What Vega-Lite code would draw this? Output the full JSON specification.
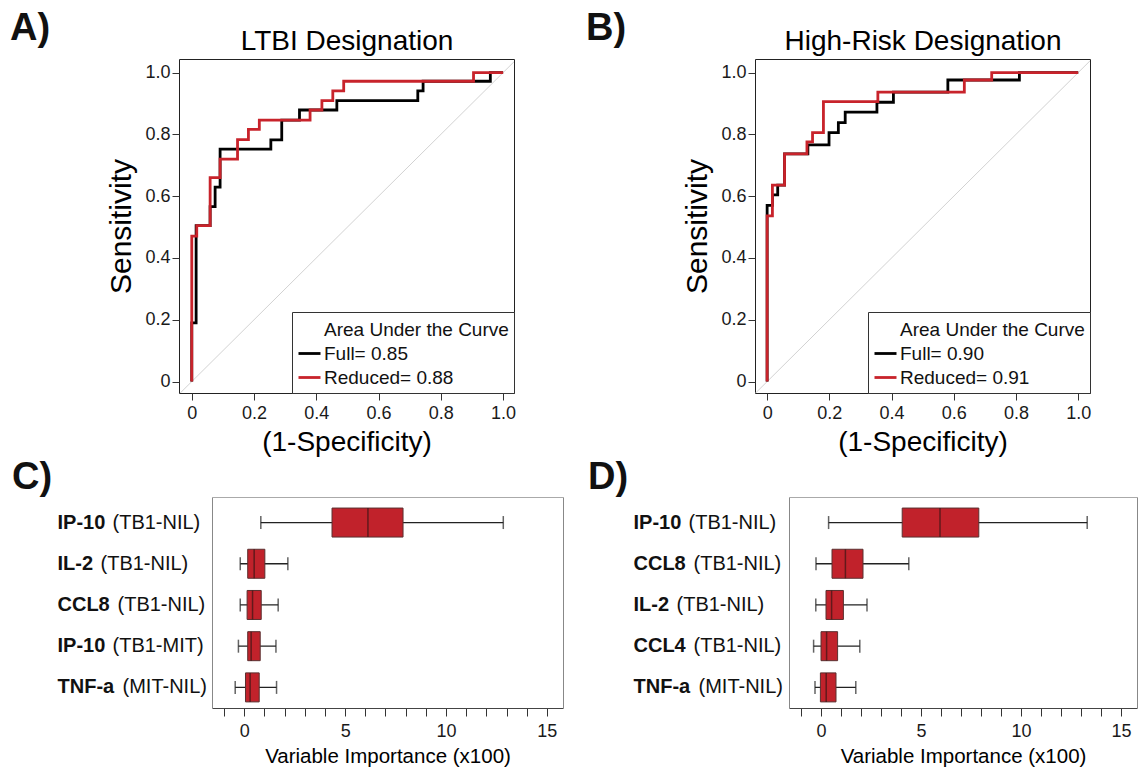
{
  "$schema": "https://vega.github.io/schema/vega-lite/v6.json",
  "autosize": {"type": "none"},
  "padding": {"left": 179, "top": 59, "right": 960, "bottom": 711},
  "background": "white",
  "columns": 2,
  "bounds": "flush",
  "align": "none",
  "spacing": {"row": 104, "column": 192},
  "resolve": {"scale": {"color": "independent"}, "legend": {"color": "independent"}},
  "config": {
    "font": "Liberation Sans",
    "view": {"stroke": "#222", "strokeWidth": 1},
    "axis": {"grid": false, "labelFont": "Liberation Sans", "titleFont": "Liberation Sans", "labelColor": "#1a1a1a", "titleColor": "#000", "titleFontWeight": "normal", "tickColor": "#333", "domainColor": "#333", "labelFontSize": 18, "labelFlush": false, "labelOverlap": false},
    "legend": {"labelFont": "Liberation Sans", "labelFontSize": 19, "labelColor": "#111", "strokeColor": "#333", "fillColor": "white", "padding": 5, "rowPadding": 1, "labelOffset": 2, "labelLimit": 0, "symbolType": "stroke", "symbolSize": 484, "symbolStrokeWidth": 2.8, "orient": "bottom-right", "offset": 0},
    "title": {"font": "Liberation Sans", "fontSize": 38, "fontWeight": "bold", "color": "#111", "anchor": "start", "frame": "group", "offset": 0}
  },
  "concat": [
    {
      "width": 335, "height": 334,
      "view": {"stroke": "#222"},
      "title": {"text": "A)", "dx": -169, "dy": 25},
      "resolve": {"axis": {"x": "independent", "y": "independent"}},
      "layer": [
        {
          "data": {"values": [{"x0": -0.05, "y0": -0.05, "x1": 1.05, "y1": 1.05}]},
          "mark": {"type": "rule", "color": "#d2d2d2", "strokeWidth": 1, "clip": true},
          "encoding": {
            "x": {"field": "x0", "type": "quantitative", "scale": {"domain": [-0.041, 1.035], "nice": false, "zero": false}, "axis": {"orient": "top", "title": "LTBI Designation", "labels": false, "ticks": false, "domain": false, "titleFontSize": 28, "titlePadding": 4}},
            "x2": {"field": "x1"},
            "y": {"field": "y0", "type": "quantitative", "scale": {"domain": [-0.037, 1.044], "nice": false, "zero": false}, "axis": null},
            "y2": {"field": "y1"}
          }
        },
        {
          "data": {"values": [
            {"model": "Full", "i": 0, "fpr": 0, "tpr": 0},
            {"model": "Full", "i": 1, "fpr": 0, "tpr": 0.19},
            {"model": "Full", "i": 2, "fpr": 0.014, "tpr": 0.19},
            {"model": "Full", "i": 3, "fpr": 0.014, "tpr": 0.505},
            {"model": "Full", "i": 4, "fpr": 0.059, "tpr": 0.505},
            {"model": "Full", "i": 5, "fpr": 0.059, "tpr": 0.566},
            {"model": "Full", "i": 6, "fpr": 0.075, "tpr": 0.566},
            {"model": "Full", "i": 7, "fpr": 0.075, "tpr": 0.629},
            {"model": "Full", "i": 8, "fpr": 0.091, "tpr": 0.629},
            {"model": "Full", "i": 9, "fpr": 0.091, "tpr": 0.752},
            {"model": "Full", "i": 10, "fpr": 0.254, "tpr": 0.752},
            {"model": "Full", "i": 11, "fpr": 0.254, "tpr": 0.782},
            {"model": "Full", "i": 12, "fpr": 0.289, "tpr": 0.782},
            {"model": "Full", "i": 13, "fpr": 0.289, "tpr": 0.846},
            {"model": "Full", "i": 14, "fpr": 0.346, "tpr": 0.846},
            {"model": "Full", "i": 15, "fpr": 0.346, "tpr": 0.879},
            {"model": "Full", "i": 16, "fpr": 0.466, "tpr": 0.879},
            {"model": "Full", "i": 17, "fpr": 0.466, "tpr": 0.909},
            {"model": "Full", "i": 18, "fpr": 0.726, "tpr": 0.909},
            {"model": "Full", "i": 19, "fpr": 0.726, "tpr": 0.941},
            {"model": "Full", "i": 20, "fpr": 0.743, "tpr": 0.941},
            {"model": "Full", "i": 21, "fpr": 0.743, "tpr": 0.972},
            {"model": "Full", "i": 22, "fpr": 0.959, "tpr": 0.972},
            {"model": "Full", "i": 23, "fpr": 0.959, "tpr": 1.0},
            {"model": "Full", "i": 24, "fpr": 1.0, "tpr": 1.0},
            {"model": "Reduced", "i": 0, "fpr": 0, "tpr": 0},
            {"model": "Reduced", "i": 1, "fpr": 0, "tpr": 0.471},
            {"model": "Reduced", "i": 2, "fpr": 0.016, "tpr": 0.471},
            {"model": "Reduced", "i": 3, "fpr": 0.016, "tpr": 0.505},
            {"model": "Reduced", "i": 4, "fpr": 0.059, "tpr": 0.505},
            {"model": "Reduced", "i": 5, "fpr": 0.059, "tpr": 0.66},
            {"model": "Reduced", "i": 6, "fpr": 0.091, "tpr": 0.66},
            {"model": "Reduced", "i": 7, "fpr": 0.091, "tpr": 0.72},
            {"model": "Reduced", "i": 8, "fpr": 0.147, "tpr": 0.72},
            {"model": "Reduced", "i": 9, "fpr": 0.147, "tpr": 0.783},
            {"model": "Reduced", "i": 10, "fpr": 0.182, "tpr": 0.783},
            {"model": "Reduced", "i": 11, "fpr": 0.182, "tpr": 0.816},
            {"model": "Reduced", "i": 12, "fpr": 0.217, "tpr": 0.816},
            {"model": "Reduced", "i": 13, "fpr": 0.217, "tpr": 0.846},
            {"model": "Reduced", "i": 14, "fpr": 0.38, "tpr": 0.846},
            {"model": "Reduced", "i": 15, "fpr": 0.38, "tpr": 0.879},
            {"model": "Reduced", "i": 16, "fpr": 0.418, "tpr": 0.879},
            {"model": "Reduced", "i": 17, "fpr": 0.418, "tpr": 0.909},
            {"model": "Reduced", "i": 18, "fpr": 0.453, "tpr": 0.909},
            {"model": "Reduced", "i": 19, "fpr": 0.453, "tpr": 0.941},
            {"model": "Reduced", "i": 20, "fpr": 0.488, "tpr": 0.941},
            {"model": "Reduced", "i": 21, "fpr": 0.488, "tpr": 0.972},
            {"model": "Reduced", "i": 22, "fpr": 0.905, "tpr": 0.972},
            {"model": "Reduced", "i": 23, "fpr": 0.905, "tpr": 1.0},
            {"model": "Reduced", "i": 24, "fpr": 1.0, "tpr": 1.0}
          ]},
          "mark": {"type": "line", "strokeWidth": 2.8},
          "encoding": {
            "x": {"field": "fpr", "type": "quantitative", "scale": {"domain": [-0.041, 1.035], "nice": false, "zero": false}, "axis": {"orient": "bottom", "title": "(1-Specificity)", "values": [0, 0.2, 0.4, 0.6, 0.8, 1], "labelExpr": "datum.value == 0 ? '0' : format(datum.value, '.1f')", "tickSize": 7, "labelPadding": 4, "titlePadding": 6, "titleFontSize": 28, "domain": false}},
            "y": {"field": "tpr", "type": "quantitative", "scale": {"domain": [-0.037, 1.044], "nice": false, "zero": false}, "axis": {"orient": "left", "title": "Sensitivity", "values": [0, 0.2, 0.4, 0.6, 0.8, 1], "labelExpr": "datum.value == 0 ? '0' : format(datum.value, '.1f')", "tickSize": 7, "labelPadding": 2, "titlePadding": 8, "titleFontSize": 30, "domain": false}},
            "color": {"field": "model", "type": "nominal", "scale": {"domain": ["AUC", "Full", "Reduced"], "range": ["rgba(0,0,0,0)", "#000000", "#C8232B"]}, "legend": {"title": null, "labelExpr": "datum.label == 'AUC' ? 'Area Under the Curve' : datum.label == 'Full' ? 'Full= 0.85' : 'Reduced= 0.88'"}},
            "order": {"field": "i", "type": "quantitative"}
          }
        }
      ]
    },
    {
      "width": 335, "height": 334,
      "view": {"stroke": "#222"},
      "title": {"text": "B)", "dx": -169, "dy": 25},
      "resolve": {"axis": {"x": "independent", "y": "independent"}},
      "layer": [
        {
          "data": {"values": [{"x0": -0.05, "y0": -0.05, "x1": 1.05, "y1": 1.05}]},
          "mark": {"type": "rule", "color": "#d2d2d2", "strokeWidth": 1, "clip": true},
          "encoding": {
            "x": {"field": "x0", "type": "quantitative", "scale": {"domain": [-0.039, 1.038], "nice": false, "zero": false}, "axis": {"orient": "top", "title": "High-Risk Designation", "labels": false, "ticks": false, "domain": false, "titleFontSize": 28, "titlePadding": 4}},
            "x2": {"field": "x1"},
            "y": {"field": "y0", "type": "quantitative", "scale": {"domain": [-0.037, 1.044], "nice": false, "zero": false}, "axis": null},
            "y2": {"field": "y1"}
          }
        },
        {
          "data": {"values": [
            {"model": "Full", "i": 0, "fpr": 0, "tpr": 0},
            {"model": "Full", "i": 1, "fpr": 0, "tpr": 0.57},
            {"model": "Full", "i": 2, "fpr": 0.017, "tpr": 0.57},
            {"model": "Full", "i": 3, "fpr": 0.017, "tpr": 0.604},
            {"model": "Full", "i": 4, "fpr": 0.034, "tpr": 0.604},
            {"model": "Full", "i": 5, "fpr": 0.034, "tpr": 0.636},
            {"model": "Full", "i": 6, "fpr": 0.056, "tpr": 0.636},
            {"model": "Full", "i": 7, "fpr": 0.056, "tpr": 0.737},
            {"model": "Full", "i": 8, "fpr": 0.131, "tpr": 0.737},
            {"model": "Full", "i": 9, "fpr": 0.131, "tpr": 0.766},
            {"model": "Full", "i": 10, "fpr": 0.199, "tpr": 0.766},
            {"model": "Full", "i": 11, "fpr": 0.199, "tpr": 0.806},
            {"model": "Full", "i": 12, "fpr": 0.229, "tpr": 0.806},
            {"model": "Full", "i": 13, "fpr": 0.229, "tpr": 0.838},
            {"model": "Full", "i": 14, "fpr": 0.251, "tpr": 0.838},
            {"model": "Full", "i": 15, "fpr": 0.251, "tpr": 0.872},
            {"model": "Full", "i": 16, "fpr": 0.353, "tpr": 0.872},
            {"model": "Full", "i": 17, "fpr": 0.353, "tpr": 0.904},
            {"model": "Full", "i": 18, "fpr": 0.406, "tpr": 0.904},
            {"model": "Full", "i": 19, "fpr": 0.406, "tpr": 0.937},
            {"model": "Full", "i": 20, "fpr": 0.581, "tpr": 0.937},
            {"model": "Full", "i": 21, "fpr": 0.581, "tpr": 0.976},
            {"model": "Full", "i": 22, "fpr": 0.811, "tpr": 0.976},
            {"model": "Full", "i": 23, "fpr": 0.811, "tpr": 1.0},
            {"model": "Full", "i": 24, "fpr": 1.0, "tpr": 1.0},
            {"model": "Reduced", "i": 0, "fpr": 0, "tpr": 0},
            {"model": "Reduced", "i": 1, "fpr": 0, "tpr": 0.536},
            {"model": "Reduced", "i": 2, "fpr": 0.017, "tpr": 0.536},
            {"model": "Reduced", "i": 3, "fpr": 0.017, "tpr": 0.636},
            {"model": "Reduced", "i": 4, "fpr": 0.056, "tpr": 0.636},
            {"model": "Reduced", "i": 5, "fpr": 0.056, "tpr": 0.737},
            {"model": "Reduced", "i": 6, "fpr": 0.128, "tpr": 0.737},
            {"model": "Reduced", "i": 7, "fpr": 0.128, "tpr": 0.776},
            {"model": "Reduced", "i": 8, "fpr": 0.146, "tpr": 0.776},
            {"model": "Reduced", "i": 9, "fpr": 0.146, "tpr": 0.806},
            {"model": "Reduced", "i": 10, "fpr": 0.181, "tpr": 0.806},
            {"model": "Reduced", "i": 11, "fpr": 0.181, "tpr": 0.906},
            {"model": "Reduced", "i": 12, "fpr": 0.356, "tpr": 0.906},
            {"model": "Reduced", "i": 13, "fpr": 0.356, "tpr": 0.937},
            {"model": "Reduced", "i": 14, "fpr": 0.634, "tpr": 0.937},
            {"model": "Reduced", "i": 15, "fpr": 0.634, "tpr": 0.976},
            {"model": "Reduced", "i": 16, "fpr": 0.722, "tpr": 0.976},
            {"model": "Reduced", "i": 17, "fpr": 0.722, "tpr": 1.0},
            {"model": "Reduced", "i": 18, "fpr": 1.0, "tpr": 1.0}
          ]},
          "mark": {"type": "line", "strokeWidth": 2.8},
          "encoding": {
            "x": {"field": "fpr", "type": "quantitative", "scale": {"domain": [-0.039, 1.038], "nice": false, "zero": false}, "axis": {"orient": "bottom", "title": "(1-Specificity)", "values": [0, 0.2, 0.4, 0.6, 0.8, 1], "labelExpr": "datum.value == 0 ? '0' : format(datum.value, '.1f')", "tickSize": 7, "labelPadding": 4, "titlePadding": 6, "titleFontSize": 28, "domain": false}},
            "y": {"field": "tpr", "type": "quantitative", "scale": {"domain": [-0.037, 1.044], "nice": false, "zero": false}, "axis": {"orient": "left", "title": "Sensitivity", "values": [0, 0.2, 0.4, 0.6, 0.8, 1], "labelExpr": "datum.value == 0 ? '0' : format(datum.value, '.1f')", "tickSize": 7, "labelPadding": 2, "titlePadding": 8, "titleFontSize": 30, "domain": false}},
            "color": {"field": "model", "type": "nominal", "scale": {"domain": ["AUC", "Full", "Reduced"], "range": ["rgba(0,0,0,0)", "#000000", "#C8232B"]}, "legend": {"title": null, "labelExpr": "datum.label == 'AUC' ? 'Area Under the Curve' : datum.label == 'Full' ? 'Full= 0.90' : 'Reduced= 0.91'"}},
            "order": {"field": "i", "type": "quantitative"}
          }
        }
      ]
    },
    {
      "width": 384, "height": 211,
      "view": {"stroke": null},
      "title": {"text": "C)", "dx": -167, "dy": 4},
      "data": {"values": [
        {"lab": "IP-10 (TB1-NIL)", "lo": 0.82, "q1": 4.35, "med": 6.13, "q3": 7.87, "hi": 12.84},
        {"lab": "IL-2 (TB1-NIL)", "lo": -0.2, "q1": 0.17, "med": 0.49, "q3": 1.02, "hi": 2.16},
        {"lab": "CCL8 (TB1-NIL)", "lo": -0.2, "q1": 0.14, "med": 0.41, "q3": 0.84, "hi": 1.68},
        {"lab": "IP-10 (TB1-MIT)", "lo": -0.29, "q1": 0.17, "med": 0.34, "q3": 0.79, "hi": 1.57},
        {"lab": "TNF-a (MIT-NIL)", "lo": -0.45, "q1": 0.06, "med": 0.29, "q3": 0.74, "hi": 1.6}
      ]},
      "resolve": {"axis": {"x": "independent", "y": "independent"}},
      "layer": [
        {
          "mark": {"type": "rule", "color": "#222", "strokeWidth": 1.3},
          "encoding": {
            "x": {"field": "lo", "type": "quantitative", "scale": {"domain": [-1.6, 15.8], "range": [33, 384], "nice": false, "zero": false}, "axis": {"orient": "bottom", "title": "Variable Importance (x100)", "values": [-1, 0, 1, 2, 3, 4, 5, 6, 7, 8, 9, 10, 11, 12, 13, 14, 15], "labelExpr": "datum.value % 5 == 0 ? datum.label : ''", "tickSize": 8, "labelPadding": 6, "titlePadding": 6, "titleFontSize": 20.5, "domain": true, "domainColor": "#444"}},
            "x2": {"field": "hi"},
            "y": {"field": "lab", "type": "nominal", "sort": null, "scale": {"domain": ["IP-10 (TB1-NIL)", "IL-2 (TB1-NIL)", "CCL8 (TB1-NIL)", "IP-10 (TB1-MIT)", "TNF-a (MIT-NIL)"], "paddingInner": 0, "paddingOuter": 0.06, "align": 1}, "axis": {"orient": "left", "offset": -33, "title": null, "domain": true, "domainColor": "#888", "ticks": false, "tickSize": 0, "labelAlign": "left", "labelBaseline": "middle", "labelPadding": 155, "labelFontWeight": "bold", "labelFontSize": 20, "labelColor": "#111", "labelLimit": 0, "labelExpr": "split(datum.value, ' (')[0]"}}
          }
        },
        {
          "mark": {"type": "bar", "fill": "#C1222B", "stroke": "#5a3030", "strokeWidth": 1, "size": 29},
          "encoding": {
            "x": {"field": "q1", "type": "quantitative", "axis": {"orient": "top", "title": null, "labels": false, "ticks": false, "domain": true, "domainColor": "#aaa"}},
            "x2": {"field": "q3"},
            "y": {"field": "lab", "type": "nominal", "sort": null, "axis": null}
          }
        },
        {
          "mark": {"type": "tick", "color": "#3a1515", "thickness": 1.5, "size": 29, "orient": "vertical"},
          "encoding": {
            "x": {"field": "med", "type": "quantitative", "axis": null},
            "y": {"field": "lab", "type": "nominal", "sort": null, "axis": null}
          }
        },
        {
          "mark": {"type": "tick", "color": "#222", "thickness": 1.5, "size": 13, "orient": "vertical"},
          "encoding": {
            "x": {"field": "lo", "type": "quantitative", "axis": null},
            "y": {"field": "lab", "type": "nominal", "sort": null, "axis": {"orient": "left", "title": null, "domain": false, "ticks": false, "tickSize": 0, "labelAlign": "left", "labelBaseline": "middle", "labelFontSize": 20, "labelColor": "#111", "labelLimit": 0, "labelExpr": "'(' + split(datum.value, ' (')[1]", "labelPadding": {"condition": [{"test": "datum.value === 'IL-2 (TB1-NIL)'", "value": 79}, {"test": "datum.value === 'CCL8 (TB1-NIL)'", "value": 62}, {"test": "datum.value === 'TNF-a (MIT-NIL)'", "value": 57}], "value": 67}}}
          }
        },
        {
          "mark": {"type": "tick", "color": "#222", "thickness": 1.5, "size": 13, "orient": "vertical"},
          "encoding": {
            "x": {"field": "hi", "type": "quantitative", "axis": null},
            "y": {"field": "lab", "type": "nominal", "sort": null, "axis": {"orient": "right", "title": null, "domain": true, "domainColor": "#888", "ticks": false, "labels": false}}
          }
        }
      ]
    },
    {
      "width": 382, "height": 211,
      "view": {"stroke": null},
      "title": {"text": "D)", "dx": -167, "dy": 4},
      "data": {"values": [
        {"lab": "IP-10 (TB1-NIL)", "lo": 0.38, "q1": 4.06, "med": 5.95, "q3": 7.89, "hi": 13.31},
        {"lab": "CCL8 (TB1-NIL)", "lo": -0.25, "q1": 0.55, "med": 1.22, "q3": 2.1, "hi": 4.39},
        {"lab": "IL-2 (TB1-NIL)", "lo": -0.26, "q1": 0.25, "med": 0.53, "q3": 1.12, "hi": 2.3},
        {"lab": "CCL4 (TB1-NIL)", "lo": -0.37, "q1": 0.0, "med": 0.28, "q3": 0.83, "hi": 1.94},
        {"lab": "TNF-a (MIT-NIL)", "lo": -0.3, "q1": -0.03, "med": 0.26, "q3": 0.75, "hi": 1.74}
      ]},
      "resolve": {"axis": {"x": "independent", "y": "independent"}},
      "layer": [
        {
          "mark": {"type": "rule", "color": "#222", "strokeWidth": 1.3},
          "encoding": {
            "x": {"field": "lo", "type": "quantitative", "scale": {"domain": [-1.6, 15.8], "range": [34, 382], "nice": false, "zero": false}, "axis": {"orient": "bottom", "title": "Variable Importance (x100)", "values": [-1, 0, 1, 2, 3, 4, 5, 6, 7, 8, 9, 10, 11, 12, 13, 14, 15], "labelExpr": "datum.value % 5 == 0 ? datum.label : ''", "tickSize": 8, "labelPadding": 6, "titlePadding": 6, "titleFontSize": 20.5, "domain": true, "domainColor": "#444"}},
            "x2": {"field": "hi"},
            "y": {"field": "lab", "type": "nominal", "sort": null, "scale": {"domain": ["IP-10 (TB1-NIL)", "CCL8 (TB1-NIL)", "IL-2 (TB1-NIL)", "CCL4 (TB1-NIL)", "TNF-a (MIT-NIL)"], "paddingInner": 0, "paddingOuter": 0.06, "align": 1}, "axis": {"orient": "left", "offset": -34, "title": null, "domain": true, "domainColor": "#888", "ticks": false, "tickSize": 0, "labelAlign": "left", "labelBaseline": "middle", "labelPadding": 156, "labelFontWeight": "bold", "labelFontSize": 20, "labelColor": "#111", "labelLimit": 0, "labelExpr": "split(datum.value, ' (')[0]"}}
          }
        },
        {
          "mark": {"type": "bar", "fill": "#C1222B", "stroke": "#5a3030", "strokeWidth": 1, "size": 29},
          "encoding": {
            "x": {"field": "q1", "type": "quantitative", "axis": {"orient": "top", "title": null, "labels": false, "ticks": false, "domain": true, "domainColor": "#aaa"}},
            "x2": {"field": "q3"},
            "y": {"field": "lab", "type": "nominal", "sort": null, "axis": null}
          }
        },
        {
          "mark": {"type": "tick", "color": "#3a1515", "thickness": 1.5, "size": 29, "orient": "vertical"},
          "encoding": {
            "x": {"field": "med", "type": "quantitative", "axis": null},
            "y": {"field": "lab", "type": "nominal", "sort": null, "axis": null}
          }
        },
        {
          "mark": {"type": "tick", "color": "#222", "thickness": 1.5, "size": 13, "orient": "vertical"},
          "encoding": {
            "x": {"field": "lo", "type": "quantitative", "axis": null},
            "y": {"field": "lab", "type": "nominal", "sort": null, "axis": {"orient": "left", "title": null, "domain": false, "ticks": false, "tickSize": 0, "labelAlign": "left", "labelBaseline": "middle", "labelFontSize": 20, "labelColor": "#111", "labelLimit": 0, "labelExpr": "'(' + split(datum.value, ' (')[1]", "labelPadding": {"condition": [{"test": "datum.value === 'IL-2 (TB1-NIL)'", "value": 79}, {"test": "datum.value === 'CCL8 (TB1-NIL)'", "value": 62}, {"test": "datum.value === 'CCL4 (TB1-NIL)'", "value": 62}, {"test": "datum.value === 'TNF-a (MIT-NIL)'", "value": 57}], "value": 67}}}
          }
        },
        {
          "mark": {"type": "tick", "color": "#222", "thickness": 1.5, "size": 13, "orient": "vertical"},
          "encoding": {
            "x": {"field": "hi", "type": "quantitative", "axis": null},
            "y": {"field": "lab", "type": "nominal", "sort": null, "axis": {"orient": "right", "title": null, "domain": true, "domainColor": "#888", "ticks": false, "labels": false}}
          }
        }
      ]
    }
  ]
}
